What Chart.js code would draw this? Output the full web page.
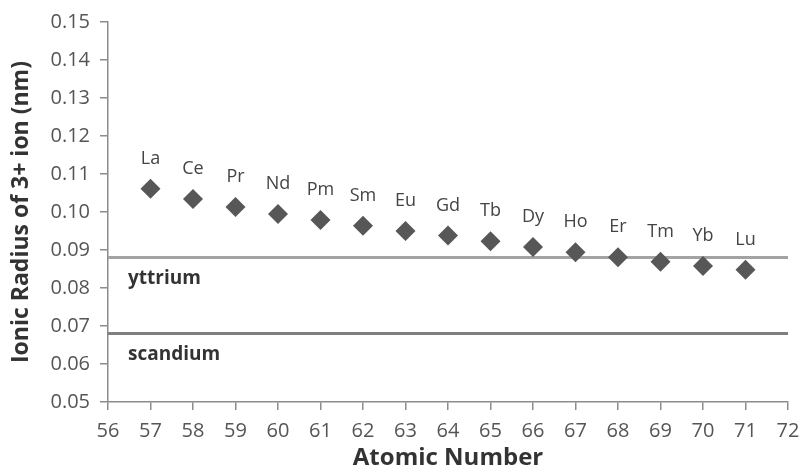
<!DOCTYPE html>
<html>
<head>
<meta charset="utf-8">
<script src="https://cdn.jsdelivr.net/npm/chart.js@4/dist/chart.umd.min.js"></script>
<style>
  html, body { margin: 0; padding: 0; background: #fff; }
  #wrap { width: 803px; height: 470px; }
</style>
</head>
<body>
<div id="wrap"><canvas id="c" width="803" height="470"></canvas></div>
<script>
// Lanthanide ionic radii (3+ ions, nm) by atomic number
const atomicNumbers = [57, 58, 59, 60, 61, 62, 63, 64, 65, 66, 67, 68, 69, 70, 71];
const symbols = ['La', 'Ce', 'Pr', 'Nd', 'Pm', 'Sm', 'Eu', 'Gd', 'Tb', 'Dy', 'Ho', 'Er', 'Tm', 'Yb', 'Lu'];
const radii = [0.1061, 0.1034, 0.1013, 0.0995, 0.0979, 0.0964, 0.0950, 0.0938, 0.0923, 0.0908, 0.0894, 0.0881, 0.0869, 0.0858, 0.0848];

// Reference radii drawn as horizontal lines
const refNames = ['yttrium', 'scandium'];
const refRadii = [0.088, 0.068];

const xRange = [56, 72];
const yRange = [0.05, 0.15];

const FONT = '"Open Sans", Lato, sans-serif';

const points = atomicNumbers.map((n, i) => ({ x: n, y: radii[i] }));

// Symbol labels above each marker, and names under the reference lines
const labelPlugin = {
  id: 'labels',
  afterDatasetsDraw(chart) {
    const { ctx, scales: { x, y } } = chart;
    ctx.save();
    ctx.font = '18px ' + FONT;
    ctx.fillStyle = '#444';
    ctx.textAlign = 'center';
    ctx.textBaseline = 'middle';
    atomicNumbers.forEach((n, i) => {
      ctx.fillText(symbols[i], x.getPixelForValue(n), y.getPixelForValue(radii[i]) - 30);
    });
    ctx.font = 'bold 19px ' + FONT;
    ctx.fillStyle = '#333';
    ctx.textAlign = 'left';
    refRadii.forEach((r, i) => {
      ctx.fillText(refNames[i], x.getPixelForValue(56.47), y.getPixelForValue(r - 0.0055));
    });
    ctx.restore();
  }
};

new Chart(document.getElementById('c'), {
  type: 'scatter',
  data: {
    datasets: [
      {
        label: 'yttrium',
        type: 'line',
        data: [{ x: xRange[0], y: refRadii[0] }, { x: xRange[1], y: refRadii[0] }],
        borderColor: '#a3a3a3',
        borderWidth: 3,
        pointRadius: 0,
        order: 2
      },
      {
        label: 'scandium',
        type: 'line',
        data: [{ x: xRange[0], y: refRadii[1] }, { x: xRange[1], y: refRadii[1] }],
        borderColor: '#7f7f7f',
        borderWidth: 3,
        pointRadius: 0,
        order: 2
      },
      {
        label: 'Ionic radius',
        data: points,
        pointStyle: 'rectRot',
        pointRadius: 10,
        pointHoverRadius: 10,
        backgroundColor: '#575757',
        borderColor: '#575757',
        borderWidth: 0,
        order: 1
      }
    ]
  },
  options: {
    responsive: false,
    animation: false,
    layout: { padding: { left: 0, right: 15, top: 22, bottom: 0 } },
    plugins: {
      legend: { display: false },
      tooltip: { enabled: false }
    },
    scales: {
      x: {
        type: 'linear',
        min: xRange[0],
        max: xRange[1],
        afterFit(s) { s.height = 68; s.paddingRight = 0; s.paddingLeft = 0; },
        ticks: {
          stepSize: 1,
          color: '#555',
          font: { family: FONT, size: 20 },
          padding: 9
        },
        grid: {
          drawOnChartArea: false,
          drawTicks: true,
          tickLength: 8,
          color: '#8c8c8c',
          lineWidth: 1.5
        },
        border: { color: '#8c8c8c', width: 1.5 },
        title: {
          display: true,
          text: 'Atomic Number',
          color: '#333',
          font: { family: FONT, size: 24, weight: 'bold', lineHeight: 1 },
          padding: { top: 0, bottom: 0 }
        }
      },
      y: {
        min: yRange[0],
        max: yRange[1],
        afterFit(s) { s.width = 108; },
        ticks: {
          stepSize: 0.01,
          color: '#555',
          font: { family: FONT, size: 20 },
          padding: 10,
          callback: v => v.toFixed(2)
        },
        grid: {
          drawOnChartArea: false,
          drawTicks: true,
          tickLength: 8,
          color: '#8c8c8c',
          lineWidth: 1.5
        },
        border: { color: '#8c8c8c', width: 1.5 },
        title: {
          display: true,
          text: 'Ionic Radius of 3+ ion (nm)',
          color: '#333',
          font: { family: FONT, size: 23, weight: 'bold', lineHeight: 1 },
          padding: { top: 10, bottom: 0 }
        }
      }
    }
  },
  plugins: [labelPlugin]
});
</script>
</body>
</html>
